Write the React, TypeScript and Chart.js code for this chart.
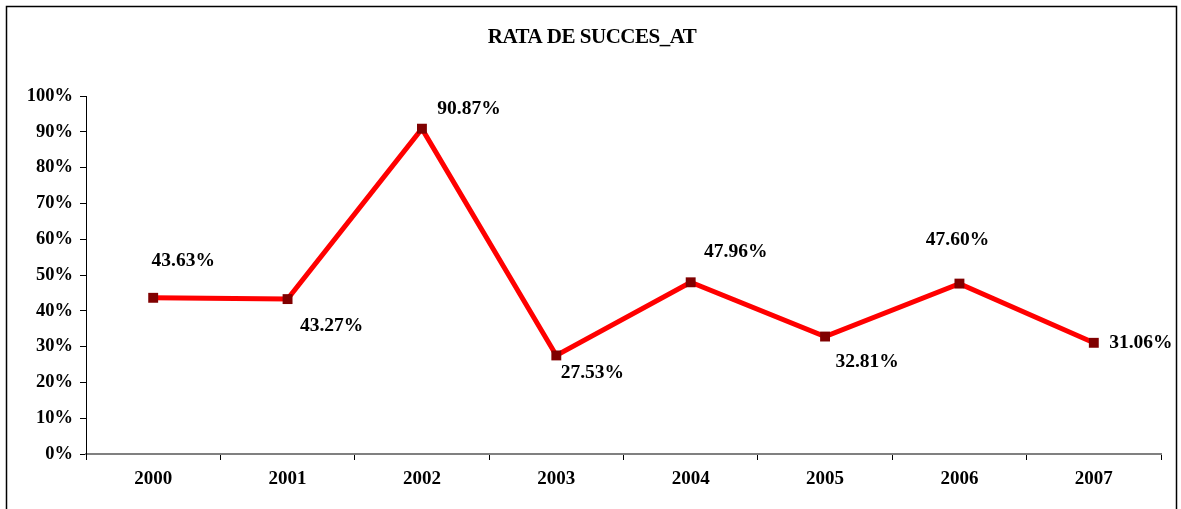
import React, { useEffect, useRef } from "react";
import { Chart, registerables } from "chart.js";

Chart.register(...registerables);

const TITLE = "RATA DE SUCCES_AT";
const categories = ["2000", "2001", "2002", "2003", "2004", "2005", "2006", "2007"];
const successRate = [43.63, 43.27, 90.87, 27.53, 47.96, 32.81, 47.6, 31.06];
const yTickValues = [0, 10, 20, 30, 40, 50, 60, 70, 80, 90, 100];
// data label offsets (label centre relative to point), in px
const labelOffsets: [number, number][] = [
  [30, -37],
  [44, 27],
  [47, -20],
  [36, 18],
  [45, -30],
  [42, 25],
  [-2, -44],
  [47, 0],
];

const FONT = "'Liberation Serif', 'Times New Roman', serif";

const frameTitleLabels = {
  id: "frameTitleLabels",
  afterDraw(chart: any) {
    const ctx = chart.ctx;
    ctx.save();
    ctx.strokeStyle = "#000";
    ctx.lineWidth = 1.5;
    ctx.strokeRect(6.5, 6.5, 1170, 520);

    ctx.fillStyle = "#000";
    ctx.textAlign = "center";
    ctx.textBaseline = "middle";
    ctx.font = `bold 21px ${FONT}`;
    if ("letterSpacing" in ctx) (ctx as any).letterSpacing = "-0.5px";
    ctx.fillText(TITLE, 592, 38);
    if ("letterSpacing" in ctx) (ctx as any).letterSpacing = "0px";

    const meta = chart.getDatasetMeta(0);
    ctx.font = `bold 19.5px ${FONT}`;
    meta.data.forEach((pt: any, i: number) => {
      const [dx, dy] = labelOffsets[i];
      ctx.fillText(successRate[i].toFixed(2) + "%", pt.x + dx, pt.y + dy);
    });
    ctx.restore();
  },
};

export default function App() {
  const ref = useRef<HTMLCanvasElement>(null);
  useEffect(() => {
    if (!ref.current) return;
    const chart = new Chart(ref.current, {
      type: "line",
      data: {
        labels: categories,
        datasets: [
          {
            label: TITLE,
            data: successRate,
            borderColor: "#FF0000",
            borderWidth: 5,
            pointStyle: "rect",
            pointRadius: 7,
            pointBackgroundColor: "#800000",
            pointBorderColor: "#800000",
            pointBorderWidth: 0,
            tension: 0,
          },
        ],
      },
      options: {
        animation: false,
        responsive: false,
        maintainAspectRatio: false,
        layout: { padding: { left: 0, right: 20, top: 96, bottom: 0 } },
        plugins: {
          legend: { display: false },
          tooltip: { enabled: false },
          title: { display: false },
        },
        scales: {
          x: {
            offset: true,
            grid: {
              offset: true,
              drawOnChartArea: false,
              drawTicks: true,
              tickLength: 6,
              color: "#000",
            },
            border: { color: "#808080", width: 2 },
            ticks: {
              color: "#000",
              font: { family: FONT, size: 19, weight: "bold" },
              padding: 8,
              maxRotation: 0,
            },
            afterFit(scale: any) {
              scale.height = 55;
            },
          },
          y: {
            min: 0,
            max: 100,
            afterBuildTicks(scale: any) {
              scale.ticks = yTickValues.map((v) => ({ value: v }));
            },
            grid: {
              drawOnChartArea: false,
              drawTicks: true,
              tickLength: 6,
              color: "#000",
            },
            border: { color: "#000", width: 1 },
            ticks: {
              color: "#000",
              font: { family: FONT, size: 18.5, weight: "bold" },
              padding: 7,
              callback: (v: any) => v + "%",
            },
            afterFit(scale: any) {
              scale.width = 86;
            },
          },
        },
      },
      plugins: [frameTitleLabels],
    });
    return () => chart.destroy();
  }, []);
  return (
    <canvas
      ref={ref}
      width={1181}
      height={509}
      style={{ position: "absolute", left: 0, top: 0, width: 1181, height: 509, background: "#fff" }}
    />
  );
}
